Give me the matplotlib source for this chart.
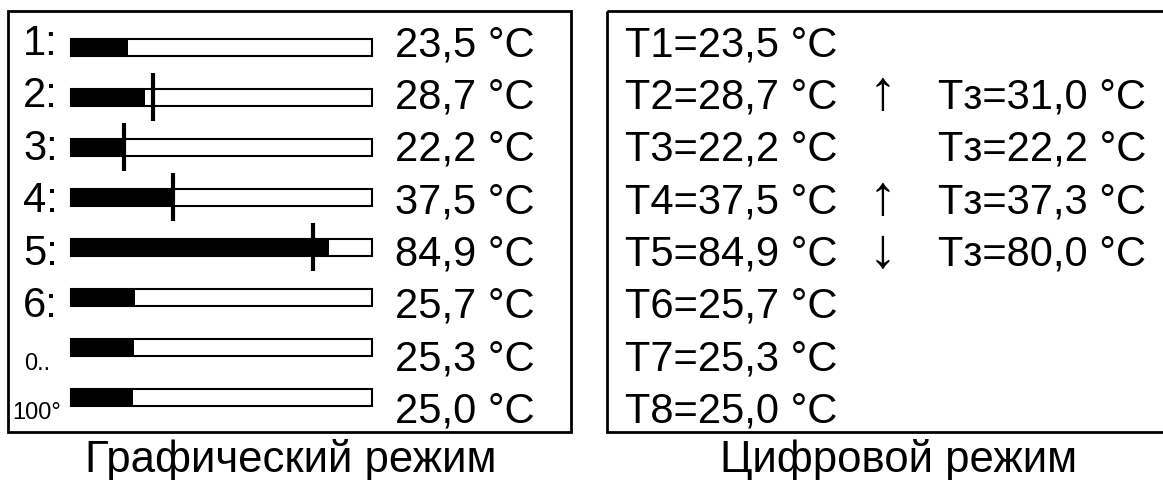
import matplotlib
matplotlib.use("Agg")
import matplotlib.pyplot as plt
from matplotlib.patches import Rectangle

plt.rcParams['font.family'] = ['Liberation Sans', 'DejaVu Sans']

# данные каналов
channels = ['1:', '2:', '3:', '4:', '5:', '6:', '0..', '100°']
temps = [23.5, 28.7, 22.2, 37.5, 84.9, 25.7, 25.3, 25.0]
setpoints = [None, 31.0, 22.2, 37.3, 80.0, None, None, None]
trends = ['', '↑', '', '↑', '↓', '', '', '']
titles = ['Графический режим', 'Цифровой режим']

# шкала полосы индикатора, °C
T_LO, T_HI = 6.0, 98.0

W, H = 1163, 481
fig = plt.figure(figsize=(W / 100, H / 100), dpi=100)

# общий слой в пикселях для рамок и текста
ax0 = fig.add_axes([0, 0, 1, 1])
ax0.set_xlim(0, W)
ax0.set_ylim(H, 0)
ax0.axis('off')

# слой полос: x в °C, y в пикселях
bx0, bx1 = 71, 372
axb = fig.add_axes([bx0 / W, 0, (bx1 - bx0) / W, 1])
axb.set_xlim(T_LO, T_HI)
axb.set_ylim(H, 0)
axb.axis('off')

ax0.add_patch(Rectangle((8, 12), 563, 421, fill=False, lw=2.0, ec='black'))
ax0.add_patch(Rectangle((607, 12), 600, 421, fill=False, lw=2.0, ec='black'))

fs = 30
bar_h = 17
for i, (lab, t, sp, tr) in enumerate(zip(channels, temps, setpoints, trends)):
    yb = 48 + 50 * i
    yt = 56 + 52.4 * i
    # полосы
    axb.barh(yb, T_HI - T_LO, left=T_LO, height=bar_h, fill=False,
             edgecolor='black', linewidth=1.5, clip_on=False)
    axb.barh(yb, t - T_LO, left=T_LO, height=bar_h, color='black',
             linewidth=0, clip_on=False)
    if sp is not None:
        axb.vlines(sp, yb - 24, yb + 24, color='black', linewidth=3, clip_on=False)

    val = f'{t:.1f}'.replace('.', ',') + ' °C'
    if i < 6:
        ax0.text(23, yt - 1, lab, fontsize=fs, va='baseline', ha='left')
    elif i == 6:
        ax0.text(24, 370, lab, fontsize=17, va='baseline', ha='left')
    else:
        ax0.text(12, 419, lab, fontsize=17, va='baseline', ha='left')
    ax0.text(395, yt, val, fontsize=fs, va='baseline', ha='left')

    # цифровой режим
    ax0.text(625, yt, f'T{i + 1}={val}', fontsize=fs, va='baseline', ha='left')
    if tr:
        ax0.text(882, yt + 1, tr, fontsize=40, va='baseline', ha='center')
    if sp is not None:
        spv = f'{sp:.1f}'.replace('.', ',') + ' °C'
        ax0.text(1146, yt, f'Tз={spv}', fontsize=fs, va='baseline', ha='right')

ax0.text(291, 472, titles[0], fontsize=31.5, va='baseline', ha='center')
ax0.text(899, 472, titles[1], fontsize=31.5, va='baseline', ha='center')

fig.savefig('out.png', dpi=100, facecolor='white')
